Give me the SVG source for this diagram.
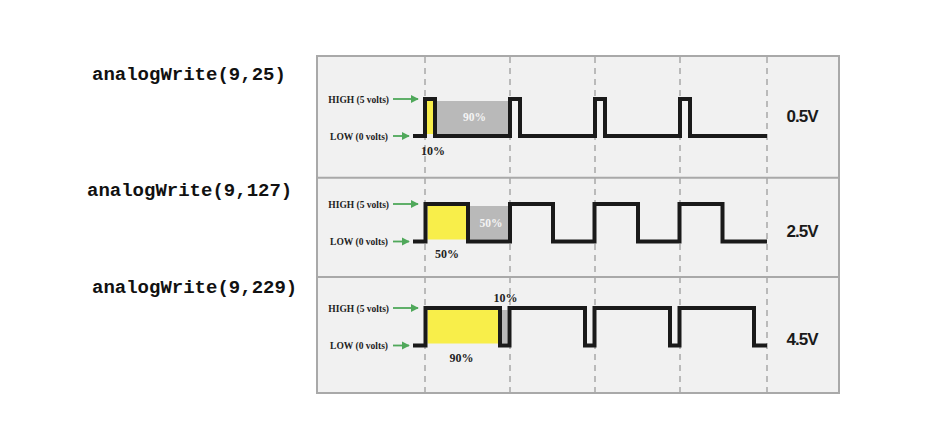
<svg xmlns="http://www.w3.org/2000/svg" width="933" height="441" viewBox="0 0 933 441">
<defs>
<style>
.code{font-family:"Liberation Mono","Courier New",monospace;font-weight:bold;font-size:19px;fill:#111}
.lvl{font-family:"Liberation Serif","Times New Roman",serif;font-weight:bold;font-size:9.5px;fill:#222;text-anchor:end}
.pct{font-family:"Liberation Serif","Times New Roman",serif;font-weight:bold;font-size:12px;fill:#222;text-anchor:middle}
.pctw{font-family:"Liberation Serif","Times New Roman",serif;font-weight:bold;font-size:11.5px;fill:#f4f4f4;text-anchor:middle}
.volt{font-family:"Liberation Sans",Arial,sans-serif;font-weight:bold;font-size:17px;fill:#1a1a1a;text-anchor:middle;letter-spacing:-1px}
.wave{fill:none;stroke:#1a1a1a;stroke-width:4;stroke-linejoin:miter}
.dash{stroke:#a8a8a8;stroke-width:1.5;stroke-dasharray:6 5}
.arr{stroke:#4fa85a;stroke-width:1.8;marker-end:url(#ah)}
.yel{fill:#f8ee4a}
.gry{fill:#b9b9b9}
</style>
<marker id="ah" viewBox="0 0 10 10" refX="9" refY="5" markerWidth="4.5" markerHeight="4.5" orient="auto" markerUnits="strokeWidth">
<path d="M0,0 L10,5 L0,10 z" fill="#4fa85a"/>
</marker>
</defs>
<rect width="933" height="441" fill="#ffffff"/>
<g id="frame">
<rect x="317" y="56" width="522" height="337" fill="#f1f1f1" stroke="#a9a9a9" stroke-width="2"/>
</g>
<g id="grid">
<line class="dash" x1="425" y1="57" x2="425" y2="392"/>
<line class="dash" x1="510" y1="57" x2="510" y2="392"/>
<line class="dash" x1="595" y1="57" x2="595" y2="392"/>
<line class="dash" x1="680" y1="57" x2="680" y2="392"/>
<line class="dash" x1="767" y1="57" x2="767" y2="392"/>
<line x1="317" y1="177.7" x2="839" y2="177.7" stroke="#a9a9a9" stroke-width="2"/>
<line x1="317" y1="277" x2="839" y2="277" stroke="#a9a9a9" stroke-width="2"/>
</g>
<g id="panel1">
<text class="code" x="92" y="80">analogWrite(9,25)</text>
<text class="lvl" x="389" y="102.5">HIGH (5 volts)</text>
<text class="lvl" x="388" y="139.5">LOW (0 volts)</text>
<g class="connectors">
<line class="arr" x1="393" y1="99" x2="418" y2="99"/>
<line class="arr" x1="393" y1="136" x2="409" y2="136"/>
</g>
<rect class="yel" x="427" y="101" width="6" height="33"/>
<rect class="gry" x="437" y="101" width="71" height="33"/>
<path class="wave" d="M413,136 H425 V99 H435 V136 H510 V99 H520 V136 H595 V99 H605 V136 H680 V99 H690 V136 H767"/>
<text class="pctw" x="474.5" y="121">90%</text>
<text class="pct" x="433" y="154.5">10%</text>
<text class="volt" x="802" y="121.5">0.5V</text>
</g>
<g id="panel2">
<text class="code" x="87" y="196">analogWrite(9,127)</text>
<text class="lvl" x="389" y="207.5">HIGH (5 volts)</text>
<text class="lvl" x="388" y="245">LOW (0 volts)</text>
<g class="connectors">
<line class="arr" x1="393" y1="204" x2="418" y2="204"/>
<line class="arr" x1="393" y1="241.5" x2="409" y2="241.5"/>
</g>
<rect class="yel" x="427.5" y="206" width="38.5" height="33.5"/>
<rect class="gry" x="470" y="206" width="38" height="33.5"/>
<path class="wave" d="M413,241.5 H425.5 V204 H468 V241.5 H510 V204 H553 V241.5 H594.5 V204 H638 V241.5 H679.5 V204 H722.5 V241.5 H767"/>
<text class="pctw" x="491" y="226.5">50%</text>
<text class="pct" x="447" y="257.5">50%</text>
<text class="volt" x="802" y="236.5">2.5V</text>
</g>
<g id="panel3">
<text class="code" x="92" y="293">analogWrite(9,229)</text>
<text class="lvl" x="389" y="311.5">HIGH (5 volts)</text>
<text class="lvl" x="388" y="349">LOW (0 volts)</text>
<g class="connectors">
<line class="arr" x1="393" y1="308" x2="418" y2="308"/>
<line class="arr" x1="393" y1="345.5" x2="409" y2="345.5"/>
</g>
<rect class="yel" x="427.5" y="310" width="70.5" height="33.5"/>
<rect class="gry" x="502" y="310" width="5.5" height="33.5"/>
<path class="wave" d="M413,345.5 H425.5 V308 H500 V345.5 H509.5 V308 H585 V345.5 H594.5 V308 H670 V345.5 H679.5 V308 H754 V345.5 H767"/>
<text class="pct" x="505.5" y="302">10%</text>
<text class="pct" x="461.5" y="362">90%</text>
<text class="volt" x="802" y="344.5">4.5V</text>
</g>
</svg>
